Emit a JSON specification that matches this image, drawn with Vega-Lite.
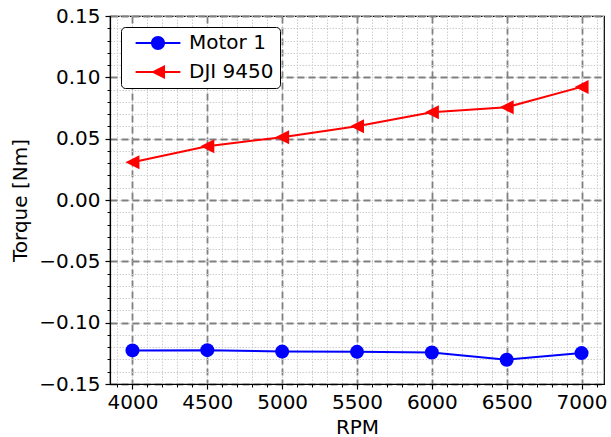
{
  "$schema": "https://vega.github.io/schema/vega-lite/v6.json",
  "width": 494,
  "height": 368,
  "autosize": "none",
  "padding": {"left": 110, "top": 16, "right": 7, "bottom": 53},
  "background": "white",
  "config": {
    "font": "DejaVu Sans",
    "view": {"stroke": "black", "strokeWidth": 1.2},
    "axis": {"labelFont": "DejaVu Sans", "titleFont": "DejaVu Sans", "labelColor": "black", "titleColor": "black", "tickColor": "black", "domainColor": "black", "titleFontWeight": "normal"}
  },
  "data": {
    "values": [
      {"rpm": 4000, "torque": -0.1226, "motor": "Motor 1"},
      {"rpm": 4500, "torque": -0.1224, "motor": "Motor 1"},
      {"rpm": 5000, "torque": -0.1236, "motor": "Motor 1"},
      {"rpm": 5500, "torque": -0.1238, "motor": "Motor 1"},
      {"rpm": 6000, "torque": -0.1243, "motor": "Motor 1"},
      {"rpm": 6500, "torque": -0.1302, "motor": "Motor 1"},
      {"rpm": 7000, "torque": -0.1248, "motor": "Motor 1"},
      {"rpm": 4000, "torque": 0.0308, "motor": "DJI 9450"},
      {"rpm": 4500, "torque": 0.0439, "motor": "DJI 9450"},
      {"rpm": 5000, "torque": 0.0512, "motor": "DJI 9450"},
      {"rpm": 5500, "torque": 0.0602, "motor": "DJI 9450"},
      {"rpm": 6000, "torque": 0.0715, "motor": "DJI 9450"},
      {"rpm": 6500, "torque": 0.0756, "motor": "DJI 9450"},
      {"rpm": 7000, "torque": 0.0922, "motor": "DJI 9450"}
    ]
  },
  "layer": [
    {
      "mark": {"type": "point", "opacity": 0},
      "encoding": {
        "x": {"field": "rpm", "type": "quantitative", "scale": {"domain": [3850, 7150], "nice": false, "zero": false},
          "axis": {"orient": "bottom", "values": [3900,4000,4100,4200,4300,4400,4500,4600,4700,4800,4900,5000,5100,5200,5300,5400,5500,5600,5700,5800,5900,6000,6100,6200,6300,6400,6500,6600,6700,6800,6900,7000,7100],
            "grid": true, "gridColor": "#cccccc", "gridDash": [1.5, 1.5], "gridWidth": 1, "labels": false, "tickSize": 3, "tickWidth": 1, "domain": false, "title": null, "zindex": 0}},
        "y": {"field": "torque", "type": "quantitative", "scale": {"domain": [-0.15, 0.15], "nice": false, "zero": false},
          "axis": {"orient": "left", "values": [-0.15,-0.14,-0.13,-0.12,-0.11,-0.1,-0.09,-0.08,-0.07,-0.06,-0.05,-0.04,-0.03,-0.02,-0.01,0,0.01,0.02,0.03,0.04,0.05,0.06,0.07,0.08,0.09,0.1,0.11,0.12,0.13,0.14,0.15],
            "grid": true, "gridColor": "#cccccc", "gridDash": [1.5, 1.5], "gridWidth": 1, "labels": false, "tickSize": 3, "tickWidth": 1, "domain": false, "title": null, "zindex": 0}}
      }
    },
    {
      "mark": {"type": "point", "opacity": 0},
      "encoding": {
        "x": {"field": "rpm", "type": "quantitative",
          "axis": {"orient": "bottom", "values": [4000,4500,5000,5500,6000,6500,7000], "format": "d",
            "grid": true, "gridColor": "#808080", "gridDash": [7, 4], "gridWidth": 1.8, "tickSize": 5, "tickWidth": 1.2, "domain": true, "domainWidth": 1.2,
            "labelFontSize": 20, "labelPadding": 3, "title": "RPM", "titleFontSize": 20, "titlePadding": 5, "zindex": 0}},
        "y": {"field": "torque", "type": "quantitative",
          "axis": {"orient": "left", "values": [-0.15,-0.1,-0.05,0,0.05,0.1,0.15], "format": ".2f",
            "grid": true, "gridColor": "#808080", "gridDash": [7, 4], "gridWidth": 1.8, "tickSize": 5, "tickWidth": 1.2, "domain": true, "domainWidth": 1.2,
            "labelFontSize": 20, "labelPadding": 5, "title": "Torque [Nm]", "titleFontSize": 20, "titlePadding": 8, "zindex": 0}}
      }
    },
    {
      "mark": {"type": "line", "strokeWidth": 2},
      "encoding": {
        "x": {"field": "rpm", "type": "quantitative", "axis": null},
        "y": {"field": "torque", "type": "quantitative", "axis": null},
        "color": {"field": "motor", "type": "nominal", "sort": ["Motor 1", "DJI 9450"], "scale": {"domain": ["Motor 1", "DJI 9450"], "range": ["#0000ff", "#ff0000"]},
          "legend": {"orient": "none", "legendX": 11, "legendY": 11, "title": null, "fillColor": "white", "strokeColor": "black", "cornerRadius": 4,
            "padding": 6, "symbolSize": 196, "symbolOffset": 21, "labelOffset": 21, "labelFontSize": 20, "labelFont": "DejaVu Sans", "labelColor": "black", "rowPadding": 9,
            "encode": {"symbols": {"update": {
              "shape": {"signal": "datum.value === 'Motor 1' ? 'M1,0A1,1,0,1,1,-1,0A1,1,0,1,1,1,0ZM-3.2,-0.143H-0.9V0.143H-3.2ZM0.9,-0.143H3.2V0.143H0.9Z' : 'M-1,0L1,-1L1,1ZM-3.2,-0.143H-0.6V0.143H-3.2ZM0.9,-0.143H3.2V0.143H0.9Z'"},
              "fill": {"signal": "datum.value === 'Motor 1' ? '#0000ff' : '#ff0000'"},
              "stroke": {"value": "transparent"},
              "strokeWidth": {"value": 0},
              "size": {"value": 196},
              "opacity": {"value": 1}
            }}}}}
      }
    },
    {
      "transform": [{"filter": "datum.motor === 'Motor 1'"}],
      "mark": {"type": "point", "filled": true, "size": 196, "opacity": 1, "shape": "circle"},
      "encoding": {
        "x": {"field": "rpm", "type": "quantitative", "axis": null},
        "y": {"field": "torque", "type": "quantitative", "axis": null},
        "color": {"field": "motor", "type": "nominal"}
      }
    },
    {
      "transform": [{"filter": "datum.motor === 'DJI 9450'"}],
      "mark": {"type": "point", "filled": true, "size": 196, "opacity": 1, "shape": "M-1,0L1,-1L1,1Z"},
      "encoding": {
        "x": {"field": "rpm", "type": "quantitative", "axis": null},
        "y": {"field": "torque", "type": "quantitative", "axis": null},
        "color": {"field": "motor", "type": "nominal"}
      }
    }
  ],
  "resolve": {"axis": {"x": "independent", "y": "independent"}}
}
